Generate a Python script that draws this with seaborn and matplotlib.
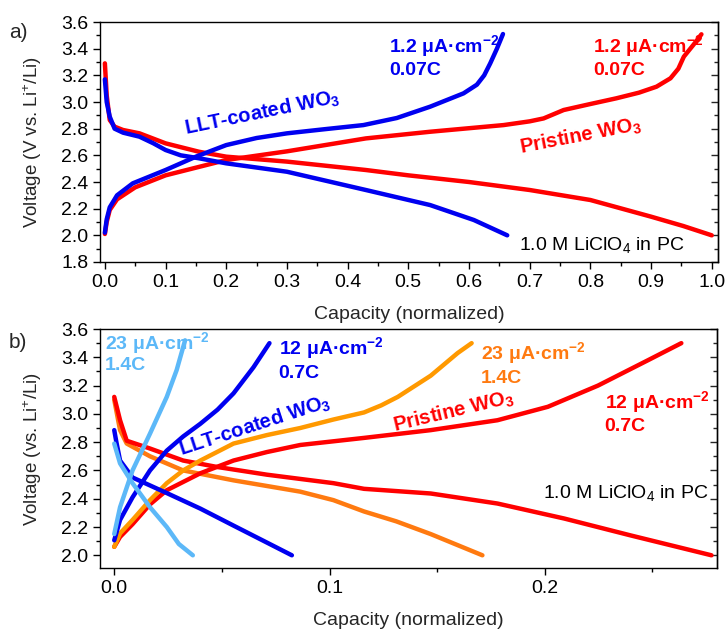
import matplotlib
matplotlib.use("Agg")
import matplotlib.pyplot as plt
import seaborn as sns
from matplotlib.ticker import MultipleLocator

# ---- panel a: 1.2 uA/cm2, 0.07C ----
a_llt_dis_x = [0, 0.003, 0.008, 0.016, 0.03, 0.057, 0.08, 0.1, 0.125, 0.155, 0.2, 0.3, 0.43, 0.536, 0.608, 0.663]
a_llt_dis_y = [3.17, 3.0, 2.89, 2.80, 2.77, 2.74, 2.69, 2.64, 2.60, 2.578, 2.54, 2.477, 2.34, 2.227, 2.115, 2.0]
a_llt_chg_x = [0, 0.003, 0.008, 0.02, 0.046, 0.1, 0.15, 0.2, 0.25, 0.3, 0.36, 0.426, 0.481, 0.536, 0.591, 0.613, 0.625, 0.635, 0.646, 0.656]
a_llt_chg_y = [2.02, 2.12, 2.21, 2.30, 2.39, 2.49, 2.59, 2.677, 2.73, 2.765, 2.795, 2.827, 2.88, 2.965, 3.065, 3.13, 3.20, 3.29, 3.40, 3.51]
a_pri_dis_x = [0, 0.003, 0.008, 0.016, 0.03, 0.057, 0.1, 0.155, 0.2, 0.3, 0.43, 0.5, 0.6, 0.7, 0.8, 0.9, 0.953, 1.0]
a_pri_dis_y = [3.29, 3.05, 2.865, 2.815, 2.79, 2.765, 2.69, 2.627, 2.59, 2.553, 2.49, 2.45, 2.40, 2.34, 2.265, 2.14, 2.07, 2.0]
a_pri_chg_x = [0, 0.003, 0.008, 0.02, 0.05, 0.1, 0.2, 0.3, 0.43, 0.536, 0.657, 0.70, 0.723, 0.756, 0.80, 0.843, 0.88, 0.909, 0.932, 0.945, 0.954, 0.97, 0.983]
a_pri_chg_y = [2.01, 2.10, 2.19, 2.27, 2.36, 2.45, 2.565, 2.63, 2.727, 2.777, 2.827, 2.855, 2.877, 2.94, 2.985, 3.028, 3.07, 3.115, 3.178, 3.25, 3.34, 3.43, 3.508]

# ---- panel b: higher rates ----
b_llt23_dis_x = [0, 0.0027, 0.0085, 0.0166, 0.0244, 0.030, 0.0365]
b_llt23_dis_y = [2.79, 2.65, 2.51, 2.34, 2.20, 2.08, 2.0]
b_llt23_chg_x = [0, 0.0027, 0.0085, 0.0166, 0.0244, 0.029, 0.0329]
b_llt23_chg_y = [2.15, 2.34, 2.60, 2.86, 3.12, 3.31, 3.52]
b_llt12_dis_x = [0, 0.001, 0.0027, 0.0085, 0.0244, 0.040, 0.0554, 0.0709, 0.0825]
b_llt12_dis_y = [2.885, 2.80, 2.67, 2.55, 2.44, 2.33, 2.21, 2.09, 2.0]
b_llt12_chg_x = [0, 0.0027, 0.0085, 0.0166, 0.0244, 0.032, 0.040, 0.048, 0.0554, 0.0647, 0.0721]
b_llt12_chg_y = [2.106, 2.25, 2.41, 2.60, 2.74, 2.84, 2.93, 3.03, 3.145, 3.33, 3.50]
b_pri23_dis_x = [0, 0.0027, 0.0058, 0.0166, 0.032, 0.0554, 0.0709, 0.0864, 0.1018, 0.116, 0.131, 0.147, 0.171]
b_pri23_dis_y = [3.10, 2.885, 2.79, 2.70, 2.60, 2.53, 2.49, 2.45, 2.39, 2.31, 2.24, 2.15, 2.0]
b_pri23_chg_x = [0, 0.0027, 0.0085, 0.0166, 0.0244, 0.032, 0.040, 0.0554, 0.0709, 0.0864, 0.1018, 0.116, 0.124, 0.1317, 0.147, 0.1595, 0.166]
b_pri23_chg_y = [2.06, 2.155, 2.25, 2.39, 2.51, 2.60, 2.67, 2.79, 2.85, 2.90, 2.96, 3.01, 3.06, 3.12, 3.27, 3.43, 3.50]
b_pri12_dis_x = [0, 0.0027, 0.0058, 0.0166, 0.032, 0.0476, 0.0709, 0.1018, 0.116, 0.147, 0.178, 0.209, 0.240, 0.2774]
b_pri12_dis_y = [3.12, 2.955, 2.81, 2.755, 2.67, 2.625, 2.57, 2.51, 2.47, 2.437, 2.366, 2.26, 2.14, 2.0]
b_pri12_chg_x = [0, 0.0027, 0.0085, 0.0166, 0.0244, 0.040, 0.0554, 0.0709, 0.0864, 0.116, 0.147, 0.178, 0.2014, 0.2247, 0.248, 0.2634]
b_pri12_chg_y = [2.06, 2.13, 2.22, 2.36, 2.46, 2.58, 2.67, 2.73, 2.78, 2.83, 2.885, 2.955, 3.05, 3.20, 3.38, 3.50]

RED = "#FF0000"
BLUE = "#0000F0"
LBLUE = "#5CB8F8"
ORANGE = "#FF9900"
DORANGE = "#FF7A10"

sns.set_theme(style="ticks")
plt.rcParams["font.family"] = ["Liberation Sans", "DejaVu Sans"]
plt.rcParams["mathtext.fontset"] = "custom"
plt.rcParams["mathtext.rm"] = "Liberation Sans"
plt.rcParams["mathtext.bf"] = "Liberation Sans:bold"
plt.rcParams["mathtext.it"] = "Liberation Sans:italic"

fig = plt.figure(figsize=(7.28, 6.31), dpi=100)
ax1 = fig.add_axes([0.1374, 0.5848, 0.8486, 0.3803])
ax2 = fig.add_axes([0.1374, 0.0998, 0.8476, 0.3788])


def curve(ax, x, y, c):
    sns.lineplot(x=x, y=y, ax=ax, color=c, lw=3.2, sort=False, estimator=None,
                 solid_capstyle="round", solid_joinstyle="round")


curve(ax1, a_pri_dis_x, a_pri_dis_y, RED)
curve(ax1, a_pri_chg_x, a_pri_chg_y, RED)
curve(ax1, a_llt_dis_x, a_llt_dis_y, BLUE)
curve(ax1, a_llt_chg_x, a_llt_chg_y, BLUE)

curve(ax2, b_pri23_dis_x, b_pri23_dis_y, DORANGE)
curve(ax2, b_pri12_dis_x, b_pri12_dis_y, RED)
curve(ax2, b_pri12_chg_x, b_pri12_chg_y, RED)
curve(ax2, b_pri23_chg_x, b_pri23_chg_y, ORANGE)
curve(ax2, b_llt12_dis_x, b_llt12_dis_y, BLUE)
curve(ax2, b_llt12_chg_x, b_llt12_chg_y, BLUE)
curve(ax2, b_llt23_dis_x, b_llt23_dis_y, LBLUE)
curve(ax2, b_llt23_chg_x, b_llt23_chg_y, LBLUE)

for ax in (ax1, ax2):
    for s in ax.spines.values():
        s.set_linewidth(1.0)
        s.set_color("black")
    ax.tick_params(which="both", direction="out", labelsize=14, colors="black",
                   top=False, right=False)
    ax.tick_params(which="major", length=5, width=1)
    ax.tick_params(which="minor", length=3, width=1)
    sec = ax.secondary_yaxis("right")
    sec.tick_params(which="both", direction="in", labelright=False)
    sec.tick_params(which="major", length=5, width=1)
    sec.tick_params(which="minor", length=3, width=1)
    sec.yaxis.set_major_locator(MultipleLocator(0.2))
    sec.yaxis.set_minor_locator(MultipleLocator(0.1))
    sec.set_yticklabels([])
    sec.spines["right"].set_linewidth(1.0)

ax1.set_xlim(-0.008, 1.01)
ax1.set_ylim(1.8, 3.6)
ax1.xaxis.set_minor_locator(MultipleLocator(0.05))
ax1.yaxis.set_major_locator(MultipleLocator(0.2))
ax1.yaxis.set_minor_locator(MultipleLocator(0.1))
ax1.set_xticks([0, 0.1, 0.2, 0.3, 0.4, 0.5, 0.6, 0.7, 0.8, 0.9, 1.0])
ax1.set_xticklabels(["0.0", "0.1", "0.2", "0.3", "0.4", "0.5", "0.6", "0.7", "0.8", "0.9", "1.0"])
ax1.set_xlabel("Capacity (normalized)", fontsize=14, labelpad=11)
ax1.set_ylabel("Voltage (V vs. Li$^{+}$/Li)", fontsize=13.5, labelpad=12)

ax2.set_xlim(-0.0066, 0.280)
ax2.set_ylim(1.91, 3.6)
ax2.xaxis.set_minor_locator(MultipleLocator(0.05))
ax2.yaxis.set_minor_locator(MultipleLocator(0.1))
ax2.set_xticks([0, 0.1, 0.2])
ax2.set_xticklabels(["0.0", "0.1", "0.2"])
ax2.set_yticks([2.0, 2.2, 2.4, 2.6, 2.8, 3.0, 3.2, 3.4, 3.6])
ax2.set_xlabel("Capacity (normalized)", fontsize=14, labelpad=11)
ax2.set_ylabel("Voltage (vs. Li$^{+}$/Li)", fontsize=13.5, labelpad=12)

bold = dict(fontsize=14, fontweight="bold", va="center", ha="left")
cur = "μA·cm$^{\\mathbf{-2}}$"

# panel a annotations
ax1.text(0.469, 3.42, "1.2 " + cur, color=BLUE, **bold)
ax1.text(0.469, 3.24, "0.07C", color=BLUE, **bold)
ax1.text(0.804, 3.42, "1.2 " + cur, color=RED, **bold)
ax1.text(0.804, 3.24, "0.07C", color=RED, **bold)
ax1.text(0.26, 2.92, "LLT-coated WO$_{\\mathbf{3}}$", color=BLUE, rotation=11.7,
         fontsize=14.5, fontweight="bold", ha="center", va="center")
ax1.text(0.784, 2.74, "Pristine WO$_{\\mathbf{3}}$", color=RED, rotation=11,
         fontsize=14.5, fontweight="bold", ha="center", va="center")
ax1.text(0.683, 1.93, "1.0 M LiClO$_4$ in PC", color="black", fontsize=14,
         ha="left", va="center")

# panel b annotations
ax2.text(-0.0043, 3.50, "23 " + cur, color=LBLUE, **bold)
ax2.text(-0.0043, 3.345, "1.4C", color=LBLUE, **bold)
ax2.text(0.0763, 3.463, "12 " + cur, color=BLUE, **bold)
ax2.text(0.0763, 3.286, "0.7C", color=BLUE, **bold)
ax2.text(0.1704, 3.428, "23 " + cur, color=DORANGE, **bold)
ax2.text(0.1704, 3.25, "1.4C", color=DORANGE, **bold)
ax2.text(0.2278, 3.085, "12 " + cur, color=RED, **bold)
ax2.text(0.2278, 2.908, "0.7C", color=RED, **bold)
ax2.text(0.0654, 2.913, "LLT-coated WO$_{\\mathbf{3}}$", color=BLUE, rotation=18,
         fontsize=14.5, fontweight="bold", ha="center", va="center")
ax2.text(0.1575, 3.015, "Pristine WO$_{\\mathbf{3}}$", color=RED, rotation=13.5,
         fontsize=14.5, fontweight="bold", ha="center", va="center")
ax2.text(0.199, 2.437, "1.0 M LiClO$_4$ in PC", color="black", fontsize=14,
         ha="left", va="center")

fig.text(0.012, 1 - 32 / 631, "a)", fontsize=15, va="center", ha="left")
fig.text(0.012, 1 - 342 / 631, "b)", fontsize=15, va="center", ha="left")

fig.savefig("out.png", dpi=100)
